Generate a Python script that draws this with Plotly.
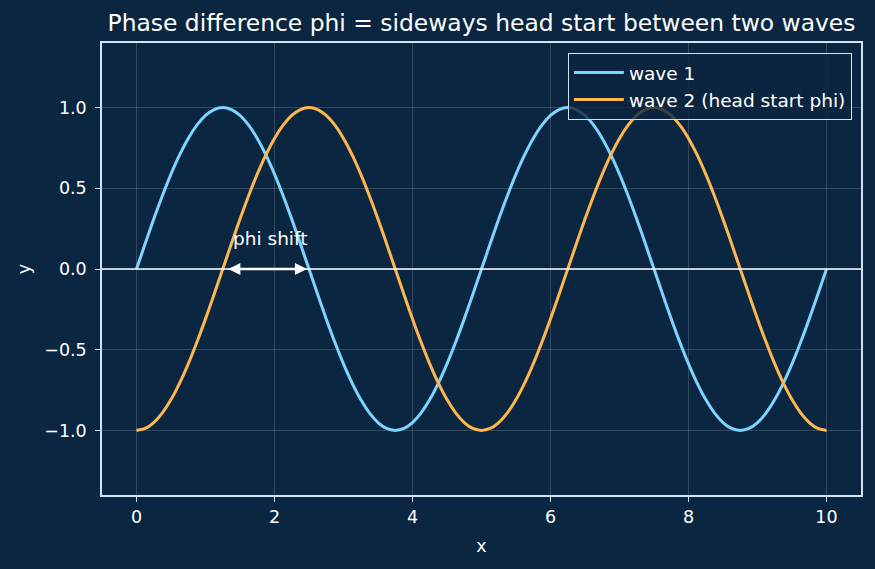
import plotly.graph_objects as go

# Sample positions (x), step 0.125
x_vals = [i * 0.125 for i in range(81)]

# one period of wave 1 read at the sample positions (40 samples), repeated twice over 0..10
wave1_period = [0.000, 0.156, 0.309, 0.454, 0.588, 0.707, 0.809, 0.891, 0.951, 0.988,
                1.000, 0.988, 0.951, 0.891, 0.809, 0.707, 0.588, 0.454, 0.309, 0.156,
                0.000, -0.156, -0.309, -0.454, -0.588, -0.707, -0.809, -0.891, -0.951, -0.988,
                -1.000, -0.988, -0.951, -0.891, -0.809, -0.707, -0.588, -0.454, -0.309, -0.156]
wave1 = wave1_period + wave1_period + [0.000]

# one period of wave 2 (head start phi)
wave2_period = [-1.000, -0.988, -0.951, -0.891, -0.809, -0.707, -0.588, -0.454, -0.309, -0.156,
                0.000, 0.156, 0.309, 0.454, 0.588, 0.707, 0.809, 0.891, 0.951, 0.988,
                1.000, 0.988, 0.951, 0.891, 0.809, 0.707, 0.588, 0.454, 0.309, 0.156,
                0.000, -0.156, -0.309, -0.454, -0.588, -0.707, -0.809, -0.891, -0.951, -0.988]
wave2 = wave2_period + wave2_period + [-1.000]

series_names = ["wave 1", "wave 2 (head start phi)"]
x_ticks = [0, 2, 4, 6, 8, 10]
y_ticks = [-1.0, -0.5, 0.0, 0.5, 1.0]
arrow_from, arrow_to = 1.31, 2.47
label_x, label_y = 1.94, 0.11

BG = "#0b2640"
FRAME = "#cfe3f5"
FONT = "DejaVu Sans"

fig = go.Figure()
fig.add_trace(go.Scatter(x=x_vals, y=wave1, mode="lines", name=series_names[0],
                         line=dict(color="#7fd3ff", width=3, shape="spline", smoothing=0.8)))
fig.add_trace(go.Scatter(x=x_vals, y=wave2, mode="lines", name=series_names[1],
                         line=dict(color="#ffb74d", width=3, shape="spline", smoothing=0.8)))

# horizontal zero line across the axes
fig.add_shape(type="line", xref="paper", x0=0, x1=1, yref="y", y0=0, y1=0,
              line=dict(color="white", width=1.6), layer="above")

# double arrow for phase shift
fig.add_annotation(x=arrow_to, y=0, ax=arrow_from, ay=0, xref="x", yref="y",
                   axref="x", ayref="y", text="", showarrow=True,
                   arrowside="end+start", arrowhead=2, arrowsize=1.0,
                   arrowwidth=2.4, arrowcolor="white")
fig.add_annotation(x=label_x, y=label_y, xref="x", yref="y", text="phi shift",
                   showarrow=False, xanchor="center", yanchor="bottom",
                   font=dict(family=FONT, size=18.5, color="white"))

axis_common = dict(showline=True, linecolor=FRAME, linewidth=1.5, mirror=True,
                   ticks="outside", ticklen=5, tickwidth=1.2, tickcolor=FRAME,
                   showgrid=True, gridcolor="rgba(255,255,255,0.16)", gridwidth=0.8,
                   zeroline=False, tickfont=dict(family=FONT, size=17.5, color="white"))

fig.update_xaxes(range=[-0.5, 10.5], tickvals=x_ticks, ticktext=[str(t) for t in x_ticks],
                 title=dict(text="x", font=dict(family=FONT, size=17.5, color="white"), standoff=14),
                 **axis_common)
fig.update_yaxes(range=[-1.4, 1.4], tickvals=y_ticks, tickformat=".1f", ticklabelstandoff=5,
                 title=dict(text="y", font=dict(family=FONT, size=17.5, color="white"), standoff=9),
                 **axis_common)

fig.update_layout(
    width=875, height=569,
    paper_bgcolor=BG, plot_bgcolor=BG,
    margin=dict(l=102, r=14, t=43, b=74),
    title=dict(text="Phase difference phi = sideways head start between two waves",
               x=(108 + 855) / 2 / 875, xanchor="center", y=1 - 23 / 569, yanchor="middle",
               font=dict(family=FONT, size=23.4, color="white")),
    showlegend=True,
    legend=dict(x=0.988, y=0.978, xanchor="right", yanchor="top", itemwidth=50,
                tracegroupgap=4,
                bgcolor="rgba(11,38,64,0.8)", bordercolor=FRAME, borderwidth=1,
                font=dict(family=FONT, size=18.5, color="white")),
    font=dict(family=FONT, color="white"),
)

fig.write_html("out.html")
